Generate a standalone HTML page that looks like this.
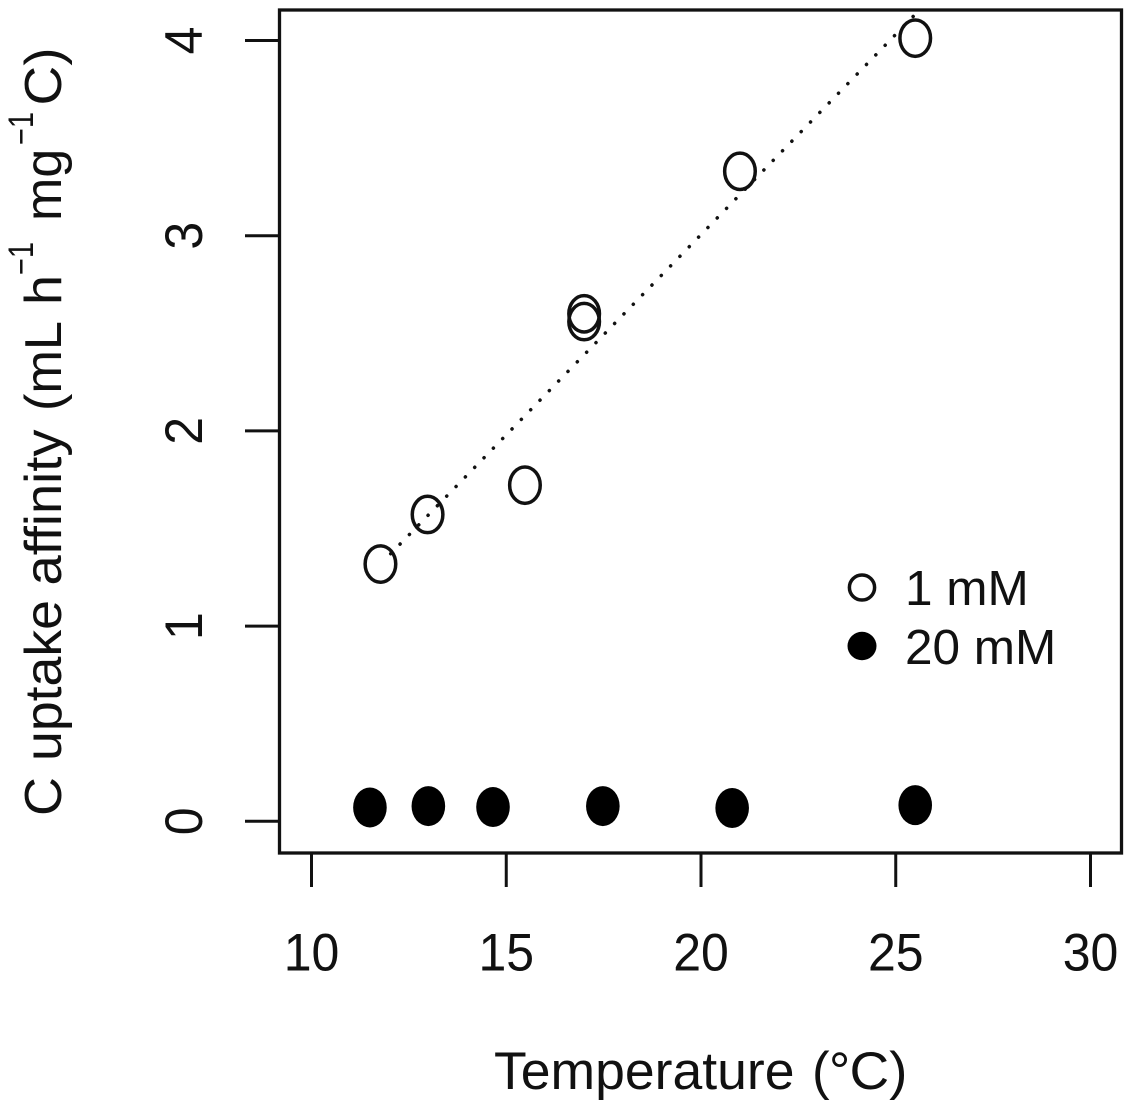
<!DOCTYPE html>
<html>
<head>
<meta charset="utf-8">
<style>
html,body{margin:0;padding:0;background:#fff;}
svg{display:block;}
text{font-family:"Liberation Sans",Arial,sans-serif;fill:#111;}
</style>
</head>
<body>
<svg id="chart" width="1133" height="1110" viewBox="0 0 1133 1110" xmlns="http://www.w3.org/2000/svg">
<rect x="279.5" y="10" width="842" height="843" fill="none" stroke="#111" stroke-width="3.3"/>
<g id="axes"></g>
<line id="trend" stroke="#111" stroke-width="3.5" stroke-dasharray="0.1 13.28" stroke-dashoffset="-1.9" stroke-linecap="round"/>
<g id="points"></g>
<g>
<ellipse cx="862" cy="587.5" rx="12.6" ry="12.5" fill="#fff" stroke="#111" stroke-width="3.5"/>
<text x="905" y="605" font-size="49.5">1 mM</text>
<ellipse cx="862" cy="646" rx="14.5" ry="14.2" fill="#000"/>
<text x="905" y="664" font-size="49.5">20 mM</text>
</g>
<g>
<text x="494" y="1089" font-size="53" textLength="300.5" lengthAdjust="spacingAndGlyphs">Temperature</text>
<text x="812" y="1089" font-size="53">(</text>
<text x="829" y="1089" font-size="53">°</text>
<text x="849.5" y="1089" font-size="53" textLength="58" lengthAdjust="spacingAndGlyphs">C)</text>
</g>
<g>
<text transform="translate(61,816) rotate(-90)" font-size="52" textLength="39" lengthAdjust="spacingAndGlyphs">C</text>
<text transform="translate(61,761) rotate(-90)" font-size="52" textLength="161" lengthAdjust="spacingAndGlyphs">uptake</text>
<text transform="translate(61,585.5) rotate(-90)" font-size="52" textLength="156" lengthAdjust="spacingAndGlyphs">affinity</text>
<text transform="translate(61,411) rotate(-90)" font-size="52" textLength="90" lengthAdjust="spacingAndGlyphs">(mL</text>
<text transform="translate(61,305) rotate(-90)" font-size="52" textLength="30" lengthAdjust="spacingAndGlyphs">h</text>
<text transform="translate(33,275) rotate(-90)" font-size="35" textLength="33" lengthAdjust="spacingAndGlyphs">−1</text>
<text transform="translate(61,221) rotate(-90)" font-size="52">mg</text>
<text transform="translate(33,145) rotate(-90)" font-size="35" textLength="33" lengthAdjust="spacingAndGlyphs">−1</text>
<text transform="translate(61,105.5) rotate(-90)" font-size="52" textLength="58" lengthAdjust="spacingAndGlyphs">C)</text>
</g>
</svg>
<script>
const xTicks = [10, 15, 20, 25, 30];
const yTicks = [0, 1, 2, 3, 4];
const temp1mM = [11.77, 12.98, 15.48, 17, 17, 21, 25.5];
const affinity1mM = [1.318, 1.572, 1.722, 2.6, 2.56, 3.33, 4.012];
const temp20mM = [11.5, 13, 14.66, 17.48, 20.8, 25.5];
const affinity20mM = [0.071, 0.078, 0.073, 0.078, 0.068, 0.083];
const trendTemps = [12, 25.5];
const trendValues = [1.364, 4.134];

const NS = 'http://www.w3.org/2000/svg';
const sx = v => 311.5 + (v - 10) * 38.95;
const sy = v => 821.3 - v * 195.2;
function make(tag, attrs, parent) {
  const el = document.createElementNS(NS, tag);
  for (const k in attrs) el.setAttribute(k, attrs[k]);
  parent.appendChild(el);
  return el;
}
const axes = document.getElementById('axes');
xTicks.forEach(t => {
  const tick = make('line', {x1: sx(t), x2: sx(t), y1: 853, y2: 887, stroke: '#111', 'stroke-width': 3}, axes);
  
  
  const label = make('text', {transform: `translate(${sx(t)},970.5) scale(1,1.06)`, 'font-size': 50, 'text-anchor': 'middle'}, axes);
  
  
  label.textContent = t;
});
yTicks.forEach(t => {
  const tick = make('line', {x1: 245, x2: 279, y1: sy(t), y2: sy(t), stroke: '#111', 'stroke-width': 3}, axes);
  
  
  const label = make('text', {transform: `translate(202,${sy(t)}) rotate(-90) scale(1,1.05)`, 'font-size': 50, 'text-anchor': 'middle'}, axes);
  
  
  label.textContent = t;
});
const trend = document.getElementById('trend');
trend.setAttribute('x1', sx(trendTemps[0]));
trend.setAttribute('y1', sy(trendValues[0]));
trend.setAttribute('x2', sx(trendTemps[1]));
trend.setAttribute('y2', sy(trendValues[1]));
const points = document.getElementById('points');
temp1mM.forEach((t, i) => {
  const p = make('ellipse', {cx: sx(t), cy: sy(affinity1mM[i]), rx: 15.3, ry: 18.2, fill: 'none', stroke: '#111', 'stroke-width': 3.5}, points);
  
  
});
temp20mM.forEach((t, i) => {
  const p = make('ellipse', {cx: sx(t), cy: sy(affinity20mM[i]), rx: 16.8, ry: 20, fill: '#000'}, points);
  
  
});
</script>
</body>
</html>
